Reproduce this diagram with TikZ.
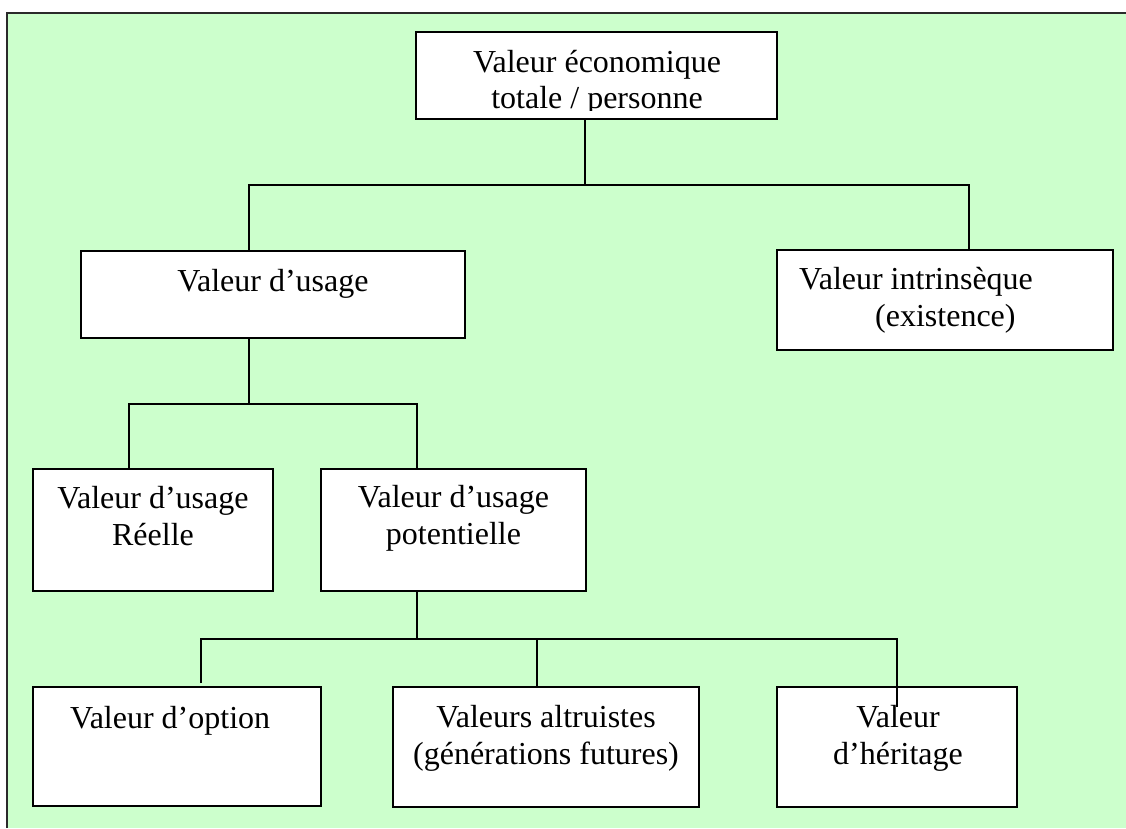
\documentclass[tikz,border=0pt]{standalone}
\usepackage{fontspec}
\setmainfont{Liberation Serif}
\definecolor{bggreen}{HTML}{CCFFCC}
\definecolor{framegray}{HTML}{2A2A2A}
\tikzset{
  box/.style={draw=black, line width=2.2pt, fill=white, rectangle, inner sep=0pt},
  lbl/.style={inner sep=0pt, anchor=base, font=\fontsize{32}{37}\selectfont},
  lblw/.style={lbl, anchor=base west},
  conn/.style={draw=black, line width=1.8pt}
}
\begin{document}
\begin{tikzpicture}[x=1pt,y=-1pt]
\useasboundingbox (0,0) rectangle (1126,828);
% background frame
\fill[bggreen] (7,13) rectangle (1126,828);
\draw[framegray, line width=2pt] (7,828) -- (7,13) -- (1126,13);

% boxes
\node[box, minimum width=361pt, minimum height=87pt]  (top)   at (596.5,75.5) {};
\node[box, minimum width=384pt, minimum height=87pt]  (usage) at (273,294.5) {};
\node[box, minimum width=336pt, minimum height=100pt] (intr)  at (945,300) {};
\node[box, minimum width=240pt, minimum height=122pt] (reel)  at (153,530) {};
\node[box, minimum width=265pt, minimum height=122pt] (pot)   at (453.5,530) {};
\node[box, minimum width=288pt, minimum height=119pt] (opt)   at (177,746.5) {};
\node[box, minimum width=306pt, minimum height=120pt] (alt)   at (546,747) {};
\node[box, minimum width=240pt, minimum height=120pt] (her)   at (897,747) {};

% junction coordinates
\coordinate (j1) at (585,185);
\coordinate (j1l) at (249,185);
\coordinate (j1r) at (969,185);
\coordinate (j2) at (249,404);
\coordinate (j2l) at (129,404);
\coordinate (j2r) at (417,404);
\coordinate (j3) at (417,639);
\coordinate (j3l) at (201,639);
\coordinate (j3m) at (537,639);
\coordinate (j3r) at (897,639);
\coordinate (optend) at (201,683);
\coordinate (herend) at (897,707);

% connectors
\draw[conn] (top.south -| j1) -- (j1);
\draw[conn] (usage.north -| j1l) -- (j1l) -- (j1r) -- (intr.north -| j1r);
\draw[conn] (usage.south -| j2) -- (j2);
\draw[conn] (reel.north -| j2l) -- (j2l) -- (j2r) -- (pot.north -| j2r);
\draw[conn] (pot.south -| j3) -- (j3);
\draw[conn] (optend) -- (j3l) -- (j3r) -- (herend);
\draw[conn] (j3m) -- (alt.north -| j3m);

% texts
\begin{scope}
\clip (416,32) rectangle (777,110.5);
\node[lbl] (t1a) at (597,72) {Valeur économique};
\node[lbl] (t1b) at (597,108) {totale / personne};
\end{scope}
\node[lbl] (t2) at (273,291) {Valeur d’usage};
\node[lblw] (t3a) at (799,289) {Valeur intrinsèque};
\node[lblw] (t3b) at (875,326) {(existence)};
\node[lbl] (t4a) at (153,508) {Valeur d’usage};
\node[lbl] (t4b) at (153,545) {Réelle};
\node[lbl] (t5a) at (453.5,507) {Valeur d’usage};
\node[lbl] (t5b) at (453.5,544) {potentielle};
\node[lblw] (t6) at (70,728) {Valeur d’option};
\node[lbl] (t7a) at (546,727) {Valeurs altruistes};
\node[lbl] (t7b) at (546,764) {(générations futures)};
\node[lbl] (t8a) at (898,727) {Valeur};
\node[lbl] (t8b) at (898,764) {d’héritage};
\end{tikzpicture}
\end{document}
